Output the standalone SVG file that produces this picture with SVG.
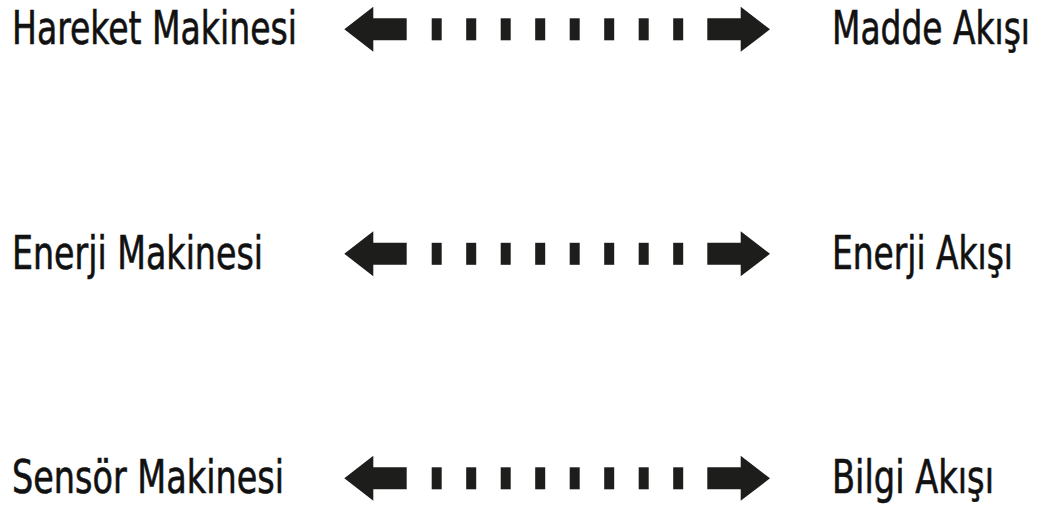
<svg xmlns="http://www.w3.org/2000/svg" xmlns:xlink="http://www.w3.org/1999/xlink" width="1041" height="509" viewBox="0 0 1041 509">
  <style>
    .lbl { font-family: "Liberation Sans Narrow", "DejaVu Sans Condensed", "Liberation Sans", sans-serif; font-size: 46px; fill: #111111; stroke: #111111; stroke-width: 0.6px; }
    .rt { text-anchor: end; }
    .ar { fill: #1d1d1b; }
  </style>
  <defs>
    <g id="link">
      <polygon class="ar" points="344.3,0 373.3,-22.5 373.3,-11 406.7,-11 406.7,11 373.3,11 373.3,22.5"/>
      <rect class="ar" x="431.7" y="-11" width="10" height="22"/>
      <rect class="ar" x="466.2" y="-11" width="10" height="22"/>
      <rect class="ar" x="500.7" y="-11" width="10" height="22"/>
      <rect class="ar" x="535.2" y="-11" width="10" height="22"/>
      <rect class="ar" x="569.7" y="-11" width="10" height="22"/>
      <rect class="ar" x="604.2" y="-11" width="10" height="22"/>
      <rect class="ar" x="638.7" y="-11" width="10" height="22"/>
      <rect class="ar" x="673.2" y="-11" width="10" height="22"/>
      <polygon class="ar" points="707.3,-11 740.7,-11 740.7,-22.5 770,0 740.7,22.5 740.7,11 707.3,11"/>
    </g>
  </defs>
  <rect width="1041" height="509" fill="#ffffff"/>
  <g id="connectors">
    <use xlink:href="#link" href="#link" transform="translate(0,29.3)"/>
    <use xlink:href="#link" href="#link" transform="translate(0,253.8)"/>
    <use xlink:href="#link" href="#link" transform="translate(0,478.3)"/>
  </g>
  <g id="hareket-makinesi"><text class="lbl" x="12" y="44" textLength="285" lengthAdjust="spacingAndGlyphs">Hareket Makinesi</text></g>
  <g id="madde-akisi"><text class="lbl rt" x="1030" y="44" textLength="198" lengthAdjust="spacingAndGlyphs">Madde Akışı</text></g>
  <g id="enerji-makinesi"><text class="lbl" x="12" y="268.5" textLength="251" lengthAdjust="spacingAndGlyphs">Enerji Makinesi</text></g>
  <g id="enerji-akisi"><text class="lbl rt" x="1013" y="268.5" textLength="181" lengthAdjust="spacingAndGlyphs">Enerji Akışı</text></g>
  <g id="sensor-makinesi"><text class="lbl" x="12" y="493" textLength="272" lengthAdjust="spacingAndGlyphs">Sensör Makinesi</text></g>
  <g id="bilgi-akisi"><text class="lbl rt" x="994" y="493" textLength="162" lengthAdjust="spacingAndGlyphs">Bilgi Akışı</text></g>
</svg>
